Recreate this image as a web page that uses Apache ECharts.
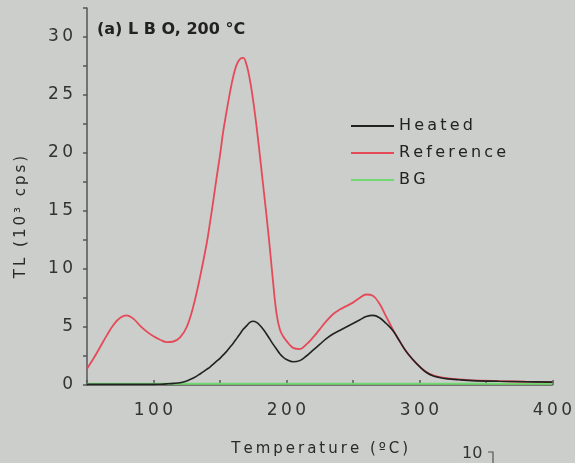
<!DOCTYPE html>
<html>
<head>
<meta charset="utf-8">
<script src="https://cdn.jsdelivr.net/npm/echarts@6/dist/echarts.min.js"></script>
<style>
  html, body { margin: 0; padding: 0; background: #cccecb; }
  #chart { width: 575px; height: 463px; }
</style>
</head>
<body>
<div id="chart"></div>
<script>
// TL glow curves, intensity in 10^3 cps versus temperature in °C
const temperature = [50,55,60,65,70,75,80,85,90,95,100,105,110,115,120,125,130,135,
  140,142.5,145,147.5,150,152.5,155,157.5,160,162.5,165,167.5,170,172.5,175,177.5,180,182.5,185,187.5,190,192.5,195,197.5,200,
  205,210,215,220,225,230,235,240,245,250,255,260,265,270,275,280,285,290,295,300,305,310,315,320,
  330,340,360,380,400];
const heated = [0.05,0.05,0.05,0.05,0.05,0.05,0.05,0.05,0.05,0.05,0.05,0.07,0.1,0.14,0.2,0.35,0.6,0.95,
  1.35,1.55,1.8,2.05,2.3,2.6,2.9,3.25,3.6,4.0,4.4,4.8,5.1,5.4,5.5,5.4,5.15,4.8,4.4,3.95,3.5,3.1,2.7,2.4,2.2,
  2.0,2.1,2.5,3.0,3.5,4.0,4.4,4.7,5.0,5.3,5.6,5.9,6.0,5.8,5.3,4.7,3.8,2.9,2.2,1.6,1.1,0.8,0.65,0.55,
  0.45,0.38,0.32,0.28,0.25];
const reference = [1.4,2.3,3.3,4.3,5.2,5.8,6.0,5.7,5.1,4.6,4.2,3.9,3.7,3.75,4.1,5.0,6.8,9.3,
  12.2,14.0,15.9,17.9,19.8,21.9,23.6,25.2,26.6,27.6,28.1,28.2,27.6,26.3,24.5,22.3,19.8,17.2,14.6,11.8,8.8,6.2,4.8,4.2,3.8,
  3.2,3.1,3.5,4.1,4.8,5.5,6.1,6.5,6.8,7.1,7.5,7.8,7.7,7.0,5.9,4.8,3.8,2.9,2.2,1.6,1.15,0.85,0.7,0.6,
  0.48,0.4,0.33,0.28,0.25];
const bgTemperature = [50, 150, 250, 350, 400];
const background = [0.1, 0.1, 0.1, 0.1, 0.1];
const xTickLabels = [100, 200, 300, 400];
const yTickLabels = [0, 5, 10, 15, 20, 25, 30];

const FONT = 'DejaVu Sans';
const THIN = '\u2009';
const spaced = (s, gap) => String(s).split('').join(gap === undefined ? THIN : gap);
const pairs = (xs, ys) => xs.map((t, i) => [t, ys[i]]);
const AXIS_COLOR = '#555';

const chart = echarts.init(document.getElementById('chart'));
chart.setOption({
  backgroundColor: '#cccecb',
  animation: false,
  grid: { left: 87, right: 21, top: 8, bottom: 78 },
  xAxis: {
    type: 'value', min: 50, max: 400, interval: 50,
    name: spaced('Temperature (ºC)'), nameLocation: 'middle', nameGap: 57,
    nameTextStyle: { fontFamily: FONT, fontSize: 15, color: '#2a2a2a' },
    axisLine: { show: true, onZero: false, lineStyle: { color: AXIS_COLOR, width: 1.5 } },
    axisTick: { show: true, inside: true, length: 5, lineStyle: { color: AXIS_COLOR, width: 1.5 } },
    axisLabel: {
      margin: 17, fontFamily: FONT, fontSize: 17, color: '#333',
      formatter: v => xTickLabels.includes(v) ? spaced(v) : ''
    },
    splitLine: { show: false }
  },
  yAxis: {
    type: 'value', min: 0, max: 32.5, interval: 2.5,
    axisLine: { show: true, lineStyle: { color: AXIS_COLOR, width: 1.5 } },
    axisTick: { show: true, length: 4, lineStyle: { color: AXIS_COLOR, width: 1.5 } },
    axisLabel: {
      margin: 14, fontFamily: FONT, fontSize: 17, color: '#333',
      formatter: v => yTickLabels.includes(v) ? spaced(v) : ''
    },
    splitLine: { show: false }
  },
  legend: {
    orient: 'vertical', left: 346, top: 113, itemGap: 11,
    icon: 'rect', itemWidth: 43, itemHeight: 2,
    textStyle: { fontFamily: FONT, fontSize: 16, color: '#222' },
    formatter: name => spaced(name),
    data: ['Heated', 'Reference', 'BG']
  },
  series: [
    { name: 'BG', type: 'line', data: pairs(bgTemperature, background), symbol: 'none',
      lineStyle: { color: '#72d872', width: 2 }, itemStyle: { color: '#72d872' }, z: 2 },
    { name: 'Reference', type: 'line', data: pairs(temperature, reference), symbol: 'none', smooth: 0.4,
      lineStyle: { color: '#e44a58', width: 1.8 }, itemStyle: { color: '#e44a58' }, z: 3 },
    { name: 'Heated', type: 'line', data: pairs(temperature, heated), symbol: 'none', smooth: 0.4,
      lineStyle: { color: '#222222', width: 1.6 }, itemStyle: { color: '#222222' }, z: 4 }
  ],
  graphic: [
    { type: 'text', left: 97, top: 22,
      style: { text: '(a) L B O, 200 °C', font: 'bold 16px "DejaVu Sans"', fill: '#222' } },
    { type: 'text', x: 21, y: 217, rotation: Math.PI / 2,
      style: { text: spaced('TL (10³ cps)'), font: '15px "DejaVu Sans"', fill: '#2a2a2a',
               align: 'center', verticalAlign: 'middle' } },
    { type: 'text', left: 462, top: 446,
      style: { text: '10', font: '16px "DejaVu Sans"', fill: '#333' } },
    { type: 'polyline', shape: { points: [[488, 452], [493, 452], [493, 463]] },
      style: { stroke: '#555', lineWidth: 1.2, fill: null } }
  ]
});
</script>
</body>
</html>
